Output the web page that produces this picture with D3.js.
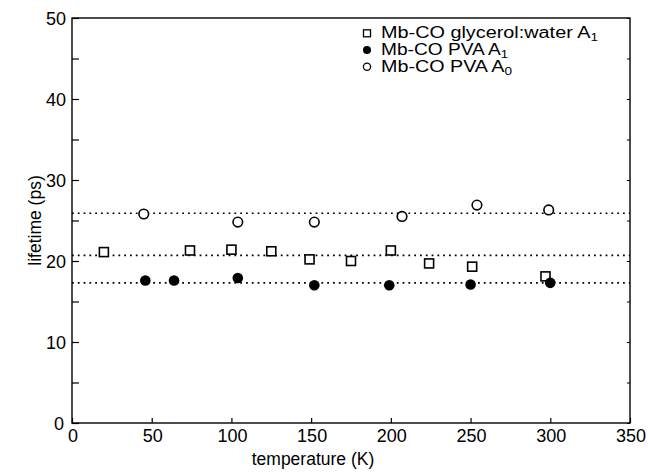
<!DOCTYPE html>
<html><head><meta charset="utf-8">
<script src="https://cdn.jsdelivr.net/npm/d3@7"></script>
<style>
body{margin:0;background:#fff;}
svg text{font-family:"Liberation Sans",Arial,Helvetica,sans-serif;fill:#000;}
</style></head>
<body><svg id="c" width="648" height="473"></svg>
<script>
// data
const glycerolT = [20, 74, 100, 125, 149, 175, 200, 224, 251, 297];
const glycerolA1 = [21.1, 21.3, 21.4, 21.2, 20.2, 20.0, 21.3, 19.7, 19.3, 18.1];
const pvaA1T = [46, 64, 104, 152, 199, 250, 300];
const pvaA1 = [17.6, 17.6, 17.9, 17.0, 17.0, 17.1, 17.3];
const pvaA0T = [45, 104, 152, 207, 254, 299];
const pvaA0 = [25.8, 24.8, 24.8, 25.5, 26.9, 26.3];
const meanLines = [25.9, 20.7, 17.3];
const xTicks = [0, 50, 100, 150, 200, 250, 300, 350];
const yTicks = [0, 10, 20, 30, 40, 50];
const yMinor = [5, 15, 25, 35, 45];
const legendLabels = [["Mb-CO glycerol:water A", "1"], ["Mb-CO PVA A", "1"], ["Mb-CO PVA A", "0"]];

const svg = d3.select("#c");
const L = 72, R = 630, T = 18, B = 423;
const x = d3.scaleLinear().domain([0, 350]).range([L, R]);
const y = d3.scaleLinear().domain([0, 50]).range([B, T]);

// frame
svg.append("rect").attr("x", L).attr("y", T).attr("width", R - L).attr("height", B - T)
  .attr("fill", "none").attr("stroke", "#000").attr("stroke-width", 1.4);

// axes (inward ticks)
const ax = svg.append("g").attr("transform", `translate(0,${B})`)
  .call(d3.axisTop(x).tickValues(xTicks).tickSize(5).tickFormat(""));
ax.select(".domain").remove();
ax.selectAll("line").attr("stroke-width", 1.2);
svg.append("g").selectAll("text").data(xTicks).join("text")
  .attr("x", d => x(d) + 1).attr("y", B + 19).attr("text-anchor", "middle")
  .attr("font-size", 18).text(d => d);

const ay = svg.append("g").attr("transform", `translate(${L},0)`)
  .call(d3.axisRight(y).tickValues(yTicks.concat(yMinor)).tickSize(7).tickFormat(""));
ay.select(".domain").remove();
ay.selectAll("line").attr("stroke-width", 1.2);
const ayr = svg.append("g").attr("transform", `translate(${R},0)`)
  .call(d3.axisLeft(y).tickValues(yTicks.concat(yMinor)).tickSize(3).tickFormat(""));
ayr.select(".domain").remove();
ayr.selectAll("line").attr("stroke-width", 1);
svg.append("g").selectAll("text").data(yTicks).join("text")
  .attr("x", d => d === 0 ? 64 : 66).attr("y", d => y(d) + 6.5).attr("text-anchor", "end")
  .attr("font-size", 18).text(d => d);

// axis titles
svg.append("text").attr("x", 313).attr("y", 465).attr("text-anchor", "middle")
  .attr("font-size", 17.5).text("temperature (K)");
svg.append("text").attr("transform", `translate(41,${(T + B) / 2}) rotate(-90)`)
  .attr("text-anchor", "middle").attr("font-size", 17.5).text("lifetime (ps)");

// dotted mean lines
svg.append("g").selectAll("line").data(meanLines).join("line")
  .attr("x1", L).attr("x2", R).attr("y1", d => y(d)).attr("y2", d => y(d))
  .attr("stroke", "#000").attr("stroke-width", 1.6).attr("stroke-dasharray", "1.8,4");

// markers
const sq = 9;
svg.append("g").selectAll("rect").data(glycerolT.map((t, i) => [t, glycerolA1[i]])).join("rect")
  .attr("x", d => x(d[0]) - sq / 2).attr("y", d => y(d[1]) - sq / 2)
  .attr("width", sq).attr("height", sq)
  .attr("fill", "#fff").attr("stroke", "#000").attr("stroke-width", 1.6);
svg.append("g").selectAll("circle").data(pvaA0T.map((t, i) => [t, pvaA0[i]])).join("circle")
  .attr("cx", d => x(d[0])).attr("cy", d => y(d[1])).attr("r", 4.8)
  .attr("fill", "#fff").attr("stroke", "#000").attr("stroke-width", 1.6);
svg.append("g").selectAll("circle").data(pvaA1T.map((t, i) => [t, pvaA1[i]])).join("circle")
  .attr("cx", d => x(d[0])).attr("cy", d => y(d[1])).attr("r", 5.3)
  .attr("fill", "#000");

// legend
const lg = svg.append("g");
const ly = [33.3, 50, 66.7];
const lw = [217, 127, 131];
lg.append("rect").attr("x", 363.5).attr("y", ly[0] - 3.5).attr("width", 7).attr("height", 7)
  .attr("fill", "#fff").attr("stroke", "#000").attr("stroke-width", 1.3);
lg.append("circle").attr("cx", 367).attr("cy", ly[1]).attr("r", 4).attr("fill", "#000");
lg.append("circle").attr("cx", 367).attr("cy", ly[2]).attr("r", 3.6).attr("fill", "#fff")
  .attr("stroke", "#000").attr("stroke-width", 1.3);
legendLabels.forEach((l, i) => {
  const t = lg.append("text").attr("x", 381).attr("y", ly[i] + 5).attr("font-size", 16)
    .attr("textLength", lw[i]).attr("lengthAdjust", "spacingAndGlyphs");
  t.append("tspan").text(l[0]);
  t.append("tspan").attr("font-size", 11).attr("dy", 3).text(l[1]);
});
</script></body></html>
